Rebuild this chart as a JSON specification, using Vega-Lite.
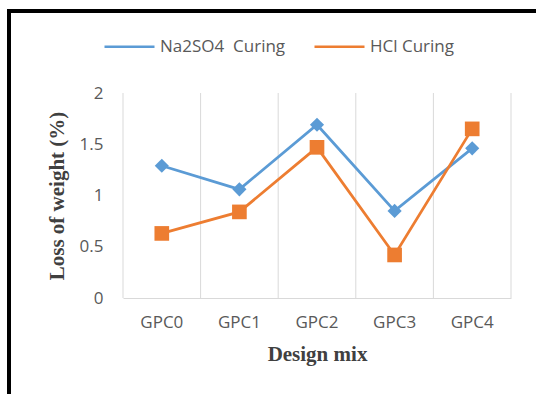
{
  "$schema": "https://vega.github.io/schema/vega-lite/v6.json",
  "width": 527,
  "height": 383,
  "autosize": {"type": "none"},
  "padding": {"left": 9, "top": 11, "right": 0, "bottom": 0},
  "background": "white",
  "view": {"stroke": "black", "strokeWidth": 4, "strokeCap": "square", "strokeDash": [527, 910, 383, 0]},
  "config": {
    "font": "Open Sans",
    "axis": {"labelFont": "Open Sans", "titleFont": "Liberation Serif"}
  },
  "data": {
    "values": [
      {"mix": "GPC0", "series": "Na2SO4  Curing", "loss": 1.29},
      {"mix": "GPC1", "series": "Na2SO4  Curing", "loss": 1.06},
      {"mix": "GPC2", "series": "Na2SO4  Curing", "loss": 1.69},
      {"mix": "GPC3", "series": "Na2SO4  Curing", "loss": 0.85},
      {"mix": "GPC4", "series": "Na2SO4  Curing", "loss": 1.46},
      {"mix": "GPC0", "series": "HCl Curing", "loss": 0.63},
      {"mix": "GPC1", "series": "HCl Curing", "loss": 0.84},
      {"mix": "GPC2", "series": "HCl Curing", "loss": 1.47},
      {"mix": "GPC3", "series": "HCl Curing", "loss": 0.42},
      {"mix": "GPC4", "series": "HCl Curing", "loss": 1.65}
    ]
  },
  "layer": [
    {
      "description": "Category boundary gridlines",
      "transform": [{"filter": "datum.series === 'HCl Curing'"}],
      "mark": {"type": "rule", "color": "#d9d9d9", "strokeWidth": 1},
      "encoding": {
        "x": {
          "field": "mix", "type": "nominal", "bandPosition": 0,
          "scale": {"type": "band", "range": [114, 502], "paddingInner": 0, "paddingOuter": 0}
        },
        "y": {
          "datum": 0, "type": "quantitative",
          "scale": {"domain": [0, 2], "range": [287, 82], "nice": false, "zero": false}
        },
        "y2": {"datum": 2}
      }
    },
    {
      "description": "Closing gridline at the right edge of the last category",
      "transform": [{"filter": "datum.series === 'HCl Curing' && datum.mix === 'GPC4'"}],
      "mark": {"type": "rule", "color": "#d9d9d9", "strokeWidth": 1},
      "encoding": {
        "x": {"field": "mix", "type": "nominal", "bandPosition": 1},
        "y": {"datum": 0, "type": "quantitative"},
        "y2": {"datum": 2}
      }
    },
    {
      "mark": {"type": "line", "strokeWidth": 2.75},
      "encoding": {
        "x": {
          "field": "mix", "type": "nominal",
          "axis": {
            "orient": "bottom", "offset": -96, "bandPosition": 0.5,
            "domainColor": "#d9d9d9", "domainWidth": 1,
            "ticks": false, "grid": false, "labelAngle": 0, "labelAlign": "center",
            "labelFontSize": 17, "labelColor": "#595959", "labelPadding": 24,
            "title": "Design mix", "titleFont": "Liberation Serif", "titleFontSize": 21,
            "titleFontWeight": "bold", "titleColor": "#404040", "titlePadding": 13
          }
        },
        "y": {
          "field": "loss", "type": "quantitative",
          "axis": {
            "orient": "left", "offset": -114, "domain": false, "ticks": false, "grid": false,
            "values": [0, 0.5, 1, 1.5, 2], "format": "~g", "labelFontSize": 17, "labelColor": "#595959",
            "labelPadding": 20,
            "title": "Loss of weight (%)", "titleFont": "Liberation Serif", "titleFontSize": 21,
            "titleFontWeight": "bold", "titleColor": "#404040", "titlePadding": 12
          }
        },
        "color": {
          "field": "series", "type": "nominal",
          "scale": {"domain": ["Na2SO4  Curing", "HCl Curing"], "range": ["#5B9BD5", "#ED7D31"]}
        }
      }
    },
    {
      "description": "Diamond markers for the sulphate series; also defines the legend",
      "transform": [{"filter": "datum.series === 'Na2SO4  Curing'"}],
      "mark": {"type": "point", "shape": "diamond", "filled": true, "opacity": 1, "size": 200},
      "encoding": {
        "x": {"field": "mix", "type": "nominal"},
        "y": {"field": "loss", "type": "quantitative"},
        "color": {
          "field": "series", "type": "nominal",
          "legend": {
            "orient": "none", "legendX": 94, "legendY": 9, "direction": "horizontal",
            "title": null, "padding": 0,
            "symbolSize": 2500, "symbolStrokeWidth": 2.5,
            "labelFont": "Open Sans", "labelFontSize": 17, "labelColor": "#595959",
            "labelOffset": 4, "columnPadding": 23,
            "labelExpr": "replace(datum.label, '  ', '\u00a0 ')",
            "encode": {
              "symbols": {
                "shape": {"value": {"expr": "datum.value === 'HCl Curing' ? 'M-1,0H1M-0.14,-0.14H0.14V0.14H-0.14Z' : 'M-1,0H1M-0.12,0L0,-0.12L0.12,0L0,0.12Z'"}},
                "size": {"value": 2500},
                "strokeWidth": {"value": 2.5},
                "strokeJoin": {"value": "miter"},
                "opacity": {"value": 1}
              }
            }
          }
        }
      }
    },
    {
      "description": "Square markers for the acid series",
      "transform": [{"filter": "datum.series === 'HCl Curing'"}],
      "mark": {"type": "point", "shape": "square", "filled": true, "opacity": 1, "size": 215},
      "encoding": {
        "x": {"field": "mix", "type": "nominal"},
        "y": {"field": "loss", "type": "quantitative"},
        "color": {"field": "series", "type": "nominal"}
      }
    }
  ]
}
